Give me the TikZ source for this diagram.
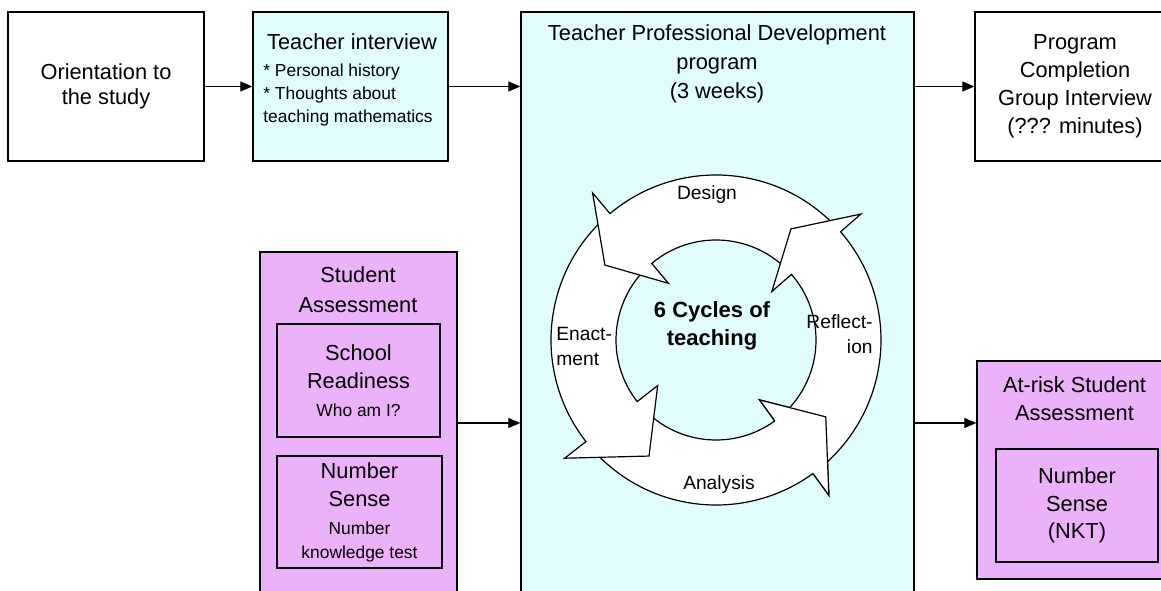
\documentclass[tikz,border=0pt]{standalone}
\usepackage{fontspec}
\setmainfont{Liberation Sans}
\usepackage{tikz}
\usetikzlibrary{arrows.meta}

\definecolor{tpdcyan}{RGB}{224,252,253}
\definecolor{assesspink}{RGB}{235,177,249}
\newcommand{\mainsize}{\fontsize{10.9}{14}\selectfont}
\newcommand{\smallsize}{\fontsize{8.7}{11.5}\selectfont}
\newcommand{\ringsize}{\fontsize{9.6}{12.5}\selectfont}

\tikzset{
  box/.style={draw, line width=0.7pt, inner sep=0pt, align=center, font=\mainsize},
  flow/.style={-{Triangle[length=6pt,width=5pt]}, line width=0.6pt},
  cyc/.style={fill=white, draw=black, line width=0.6pt}
}

% ring arrow: start angle, base angle, tip angle
\newcommand{\cyclearrow}[3]{%
  \filldraw[cyc] (#1:82.5pt) arc[start angle=#1, end angle=#2, radius=82.5pt]
    -- (#2:96pt) -- (#3:67pt) -- (#2:37pt) -- (#2:50pt)
    arc[start angle=#2, end angle=#1, radius=50pt] -- cycle;}
% head only, laid again on top
\newcommand{\cyclehead}[2]{%
  \fill[white] (#1:96pt) -- (#2:67pt) -- (#1:37pt) -- cycle;
  \draw[cyc, fill=none] (#1:82.5pt) -- (#1:96pt) -- (#2:67pt) -- (#1:37pt) -- (#1:50pt);}

\begin{document}
\begin{tikzpicture}[x=0.5pt, y=0.5pt]
    \useasboundingbox (0,0) rectangle (1161,590);
    \clip (0,0) rectangle (1161,590);

    % Top row
    \node[box, font=\fontsize{10.9}{12.5}\selectfont, minimum width=98pt, minimum height=74.5pt] (orient) at (106,503.5) {Orientation to\\the study};
    \node[box, fill=tpdcyan, minimum width=97.5pt, minimum height=74.5pt] (tint) at (350.5,503.5) {};
    \node[font=\mainsize] (tinttitle) at (352,548) {Teacher interview};
    \node[font=\smallsize, align=left, anchor=west, inner sep=0pt] (tintlist) at (263,495) {* Personal history\\* Thoughts about\\teaching mathematics};
    \node[box, minimum width=100pt, minimum height=74.5pt] (prog) at (1075,503.5) {Program\\Completion\\Group Interview\\(??? minutes)};

    % Programme
    \node[box, fill=tpdcyan, minimum width=196.5pt, minimum height=294pt] (tpd) at (717.5,284) {};
    \node[font=\fontsize{10.9}{14.5}\selectfont, align=center] (tpdtitle) at (717,526) {Teacher Professional Development\\program\\(3 weeks)};

    % Assessments
    \node[box, fill=assesspink, minimum width=98.5pt, minimum height=174pt] (stud) at (358.5,164) {};
    \node[font=\fontsize{10.9}{15}\selectfont, align=center] (studtitle) at (358,300) {Student\\Assessment};
    \node[box, minimum width=81.5pt, minimum height=56.5pt] (ready) at (358.5,209.5) {School\\Readiness\\\smallsize Who am I?};
    \node[box, minimum width=82.5pt, minimum height=56pt] (numsense) at (359.5,78) {Number\\Sense\\\smallsize Number\\[-2pt]\smallsize knowledge test};
    \node[box, fill=assesspink, minimum width=97.5pt, minimum height=109pt] (risk) at (1074.5,120) {};
    \node[font=\mainsize, align=center] (risktitle) at (1074.5,191) {At-risk Student\\Assessment};
    \node[box, font=\fontsize{10.9}{13.75}\selectfont, minimum width=81pt, minimum height=56.5pt] (nkt) at (1077,84.5) {Number\\Sense\\(NKT)};

    % Flow
    \coordinate (low) at (0,167);
    \draw[flow] (orient) -- (tint);
    \draw[flow] (tint) -- (tint -| tpd.west);
    \draw[flow] (tpd.east |- prog) -- (prog);
    \draw[flow] (stud.east |- low) -- (tpd.west |- low);
    \draw[flow] (tpd.east |- low) -- (risk.west |- low);

    % Cycle
    \begin{scope}[shift={(716,250)}]
        \cyclearrow{221}{306}{325}
        \cyclearrow{133}{218}{240}
        \cyclearrow{44}{130}{146}
        \cyclearrow{-51}{41}{56}
        \cyclehead{306}{325}
    \end{scope}
    \node[font=\ringsize] (design) at (707,395) {Design};
    \node[font=\ringsize] (analysis) at (719,105) {Analysis};
    \node[font=\ringsize, align=left, anchor=west, inner sep=0pt] (enact) at (556,244) {Enact-\\ment};
    \node[font=\ringsize, align=right, anchor=east, inner sep=0pt] (reflect) at (873,256) {Reflect-\\ion};
    \node[font=\bfseries\fontsize{11}{14}\selectfont, align=center] (cycles) at (712,264) {6 Cycles of\\teaching};
\end{tikzpicture}
\end{document}
